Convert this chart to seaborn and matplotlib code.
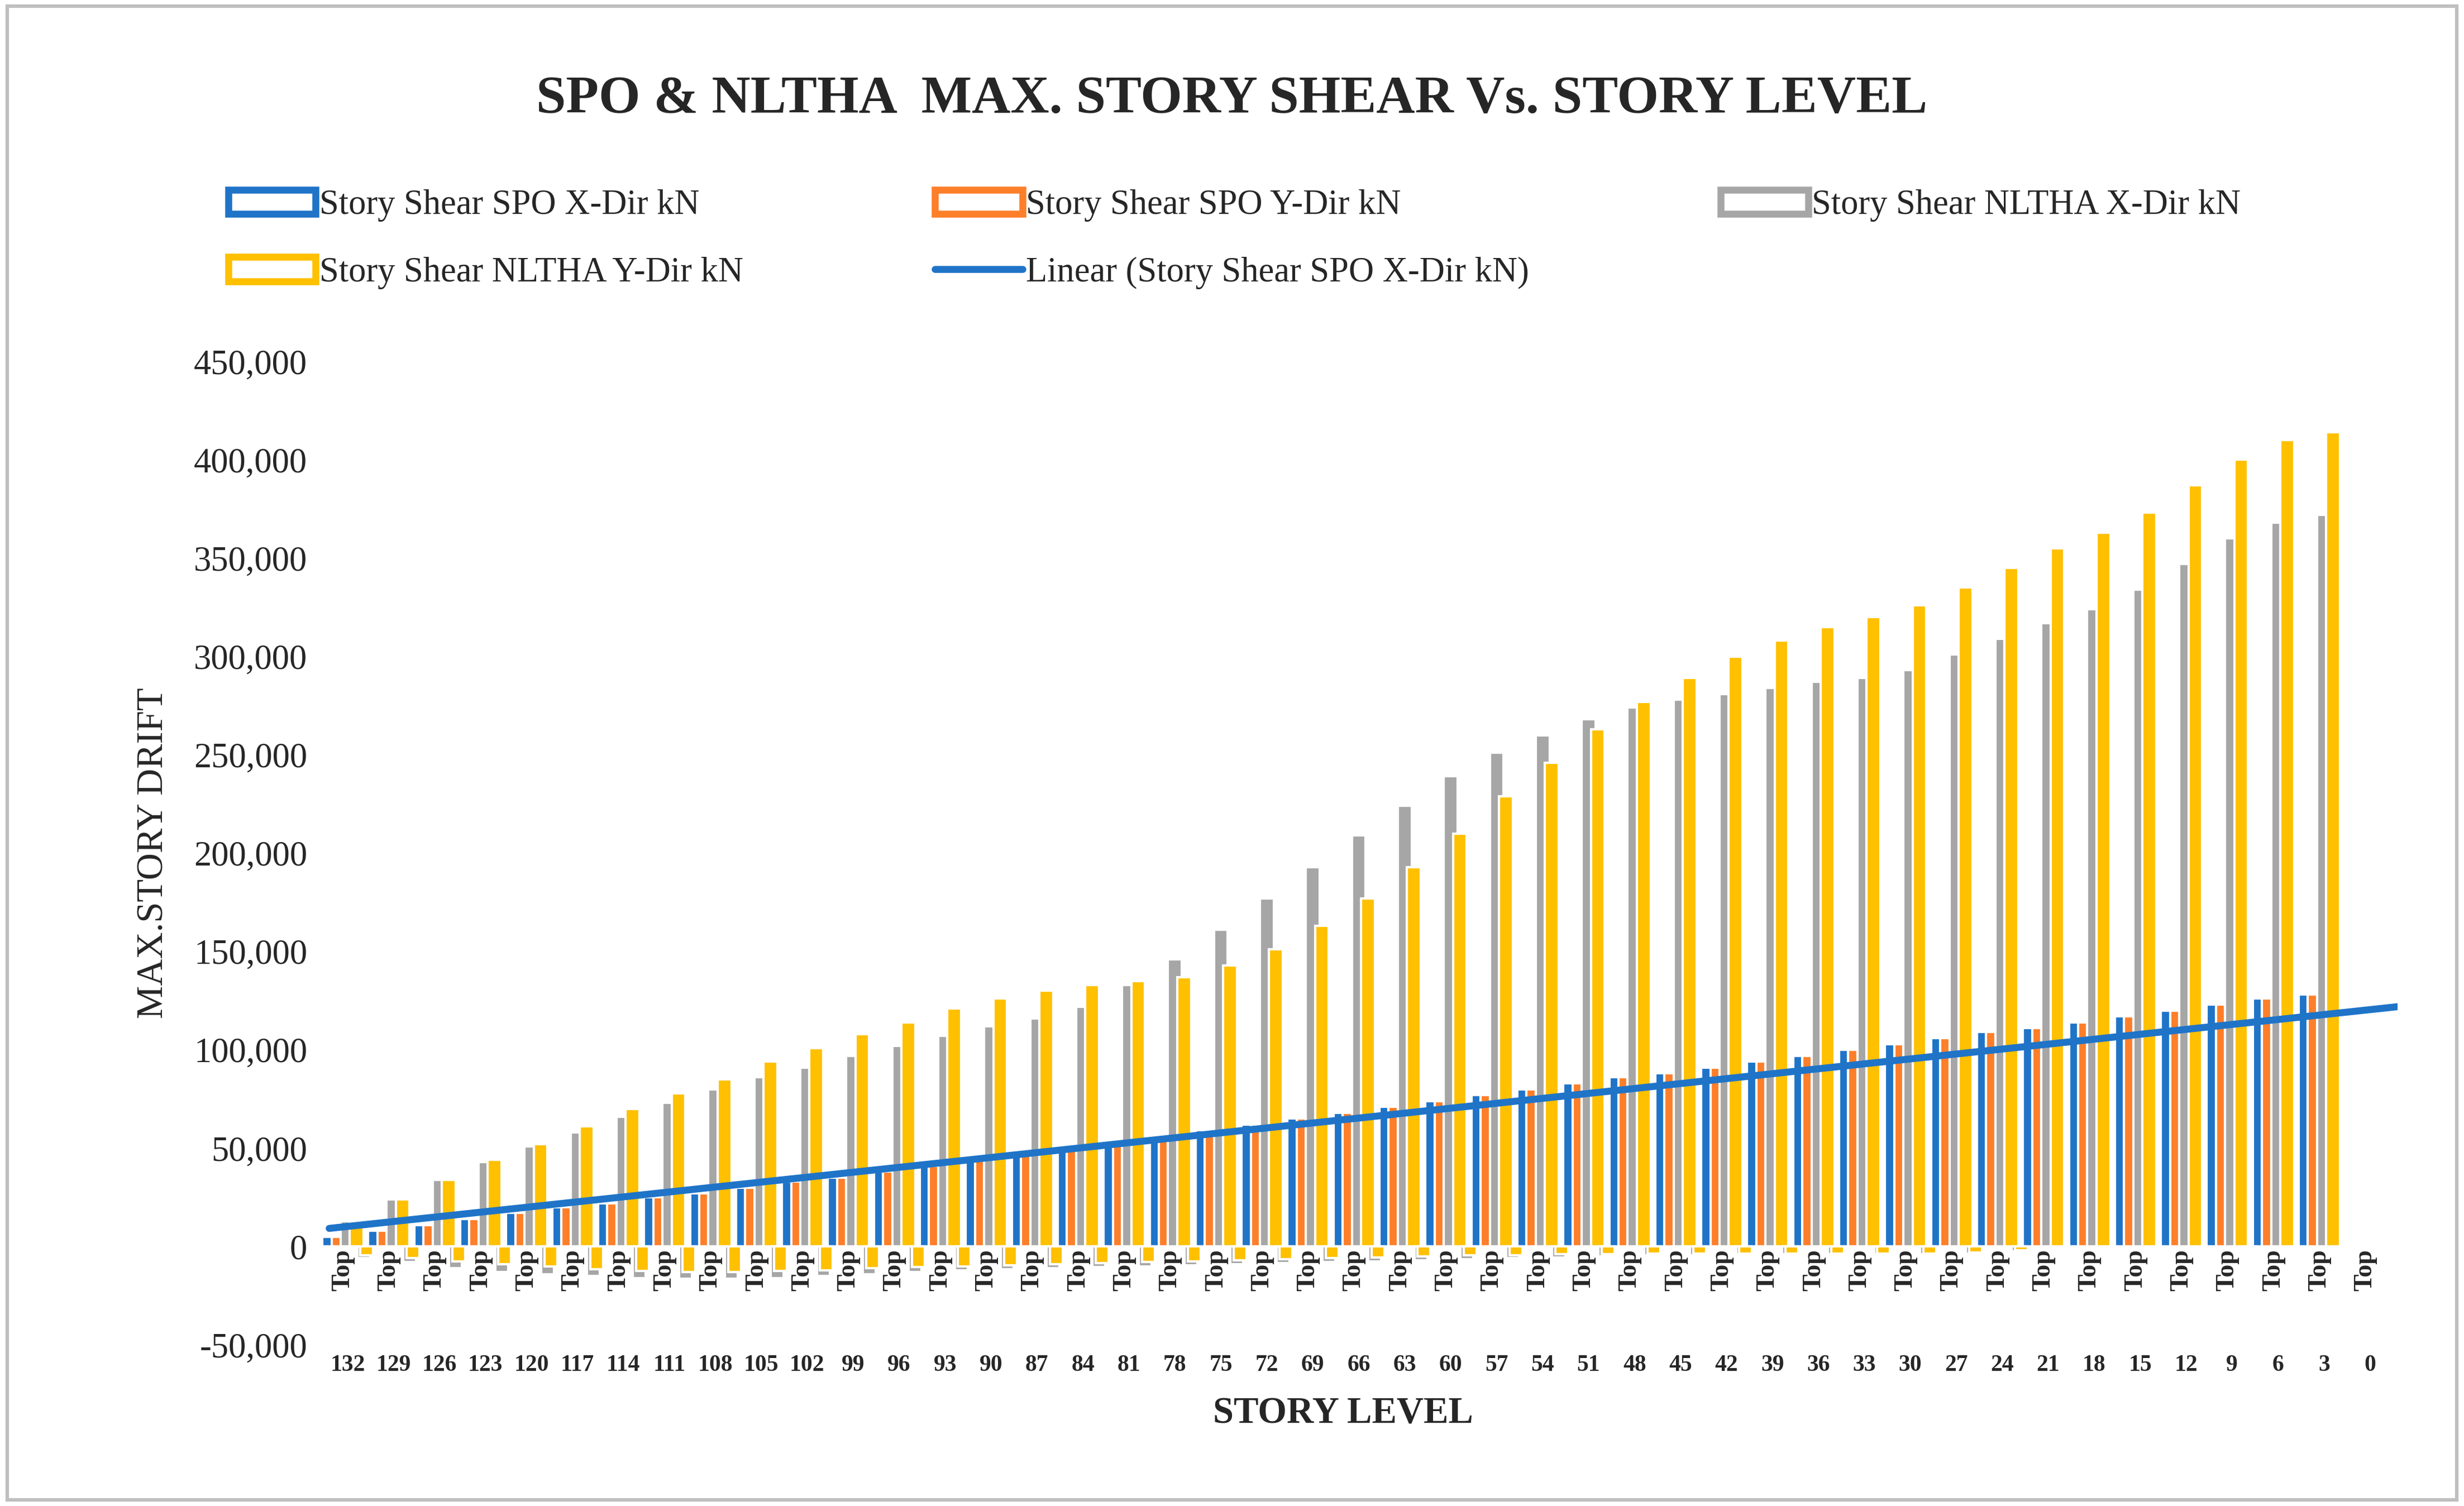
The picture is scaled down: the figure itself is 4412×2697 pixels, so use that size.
import numpy as np
import pandas as pd
import matplotlib
matplotlib.use("Agg")
import matplotlib.pyplot as plt
import matplotlib.patches as mpatches
import matplotlib.lines as mlines
from matplotlib.ticker import FuncFormatter
import seaborn as sns

# story levels (top to bottom)
levels = [132, 129, 126, 123, 120, 117, 114, 111, 108, 105, 102, 99, 96, 93, 90,
          87, 84, 81, 78, 75, 72, 69, 66, 63, 60, 57, 54, 51, 48, 45,
          42, 39, 36, 33, 30, 27, 24, 21, 18, 15, 12, 9, 6, 3, 0]

spo_x = [5000, 8000, 11000, 14000, 17000, 20000, 22000, 25000, 27000, 30000, 33000, 35000, 38000, 41000, 44000,
         47000, 50000, 53000, 56000, 59000, 62000, 65000, 68000, 71000, 74000, 77000, 80000, 83000, 86000, 88000,
         91000, 94000, 97000, 100000, 103000, 106000, 109000, 111000, 114000, 117000, 120000, 123000, 126000, 128000, 0]
spo_y = [5000, 8000, 11000, 14000, 17000, 20000, 22000, 25000, 27000, 30000, 33000, 35000, 38000, 41000, 44000,
         47000, 50000, 53000, 56000, 59000, 62000, 65000, 68000, 71000, 74000, 77000, 80000, 83000, 86000, 88000,
         91000, 94000, 97000, 100000, 103000, 106000, 109000, 111000, 114000, 117000, 120000, 123000, 126000, 128000, 0]
nltha_x = [13000, 24000, 34000, 43000, 51000, 58000, 66000, 73000, 80000, 86000, 91000, 97000, 102000, 107000, 112000,
           116000, 122000, 133000, 146000, 161000, 177000, 193000, 209000, 224000, 239000, 251000, 260000, 268000, 274000, 278000,
           281000, 284000, 287000, 289000, 293000, 301000, 309000, 317000, 324000, 334000, 347000, 360000, 368000, 372000, 0]
nltha_y = [12000, 24000, 34000, 44000, 52000, 61000, 70000, 78000, 85000, 94000, 101000, 108000, 114000, 121000, 126000,
           130000, 133000, 135000, 137000, 143000, 151000, 163000, 177000, 193000, 210000, 229000, 246000, 263000, 277000, 289000,
           300000, 308000, 315000, 320000, 326000, 335000, 345000, 355000, 363000, 373000, 387000, 400000, 410000, 414000, 0]
# small negative values shown between the groups
neg_x = [-6000, -8000, -11000, -13000, -14000, -15000, -16000, -16500, -16500, -16000, -15000, -14000, -13000, -12000, -11500,
         -11000, -10500, -10000, -9500, -9000, -8500, -8000, -7500, -7000, -6500, -6000, -5500, -5000, -4500, -4500,
         -4000, -4000, -4000, -4000, -4000, -3500, -2500, 0, 0, 0, 0, 0, 0, 0, 0]
neg_y = [-4500, -6000, -7500, -9000, -10000, -11500, -12500, -13000, -13000, -12500, -12000, -11000, -10500, -10000, -9500,
         -9000, -8500, -8000, -7500, -7000, -6500, -6000, -5500, -5000, -4500, -4500, -4000, -4000, -3500, -3500,
         -3500, -3500, -3500, -3500, -3500, -3000, -2000, 0, 0, 0, 0, 0, 0, 0, 0]

series = ["Story Shear SPO X-Dir kN", "Story Shear SPO Y-Dir kN",
          "Story Shear NLTHA X-Dir kN", "Story Shear NLTHA Y-Dir kN"]
colors = ["#1f74c8", "#fe7f2a", "#a6a6a6", "#ffc000"]

df = pd.DataFrame({"Level": [str(l) for l in levels] * 4,
                   "Series": np.repeat(series, len(levels)),
                   "Shear": spo_x + spo_y + nltha_x + nltha_y})

sns.set_style("white")
plt.rcParams["font.family"] = "Liberation Serif"

fig = plt.figure(figsize=(14.707, 8.99), dpi=300)
ax = fig.add_axes([0.128, 0.107, 0.845, 0.653])

sns.barplot(data=df, x="Level", y="Shear", hue="Series", palette=colors,
            order=[str(l) for l in levels], hue_order=series, width=0.8,
            saturation=1, dodge=True, legend=False, ax=ax)
# widen bars so neighbouring series overlap like the Excel chart
for p in ax.patches:
    w = p.get_width()
    p.set_x(p.get_x() - w * 0.25)
    p.set_width(w * 1.5)

x = np.arange(len(levels))
ax.bar(x + 0.45, neg_x, width=0.28, color=colors[2], zorder=2)
ax.bar(x + 0.52, neg_y, width=0.28, color=colors[3], zorder=2)

# linear trend of SPO X
coef = np.polyfit(x, spo_x, 1)
xl = np.array([-0.3, len(levels) - 0.3])
ax.plot(xl, np.polyval(coef, xl), color="#1f74c8", lw=3, solid_capstyle="round", zorder=5)

ax.set_ylim(-50000, 450000)
ax.set_xlim(-0.6, len(levels) - 0.3)
ax.set_yticks(range(-50000, 450001, 50000))
ax.yaxis.set_major_formatter(FuncFormatter(lambda v, p: f"{int(v):,}"))
ax.tick_params(axis="y", labelsize=15, length=0)
ax.set_xticks([])
ax.set_xlabel("")
ax.set_ylabel("MAX.STORY DRIFT", fontsize=16, labelpad=10)
for s in ax.spines.values():
    s.set_visible(False)

for i, l in enumerate(levels):
    ax.text(i, -1500, "Top", rotation=90, ha="center", va="top", fontsize=11, fontweight="bold")
    ax.text(i + 0.1, -55000, str(l), ha="center", va="top", fontsize=10, fontweight="bold")

fig.text(0.545, 0.055, "STORY LEVEL", ha="center", fontsize=16, fontweight="bold")
fig.text(0.5, 0.925, "SPO & NLTHA  MAX. STORY SHEAR Vs. STORY LEVEL", ha="center",
         fontsize=23, fontweight="bold")

handles = [mpatches.Patch(facecolor="white", edgecolor=c, linewidth=3, label=s)
           for c, s in zip(colors, series)]
handles.append(mlines.Line2D([], [], color="#1f74c8", lw=3, label="Linear (Story Shear SPO X-Dir kN)"))
blank = mpatches.Patch(alpha=0, label="")
# column-major fill, so order gives row-major layout
ordered = [handles[0], handles[3], handles[1], handles[4], handles[2], blank]
fig.legend(handles=ordered, loc="upper left", bbox_to_anchor=(0.08, 0.895), ncol=3,
           frameon=False, fontsize=15, columnspacing=5.5, handlelength=2.5, handletextpad=0.1,
           labelspacing=1.0)

fig.add_artist(mpatches.Rectangle((0.003, 0.004), 0.994, 0.992, transform=fig.transFigure,
                                  fill=False, edgecolor="#bfbfbf", lw=1.5))
fig.savefig("out.png", dpi=300)
